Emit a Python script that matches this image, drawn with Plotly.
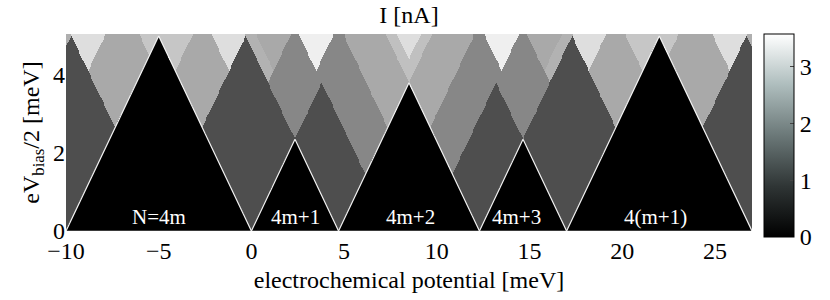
import numpy as np
import plotly.graph_objects as go

# ---------------- data ----------------
# zero-bias degeneracy points (meV) where neighbouring diamonds touch
degeneracy = [-22.3, -14.7, -10.0, 0.0, 4.7, 12.3, 17.0, 27.0, 31.7, 39.3]
# charge-state labels inside the diamonds
label_text = ["N=4m", "4m+1", "4m+2", "4m+3", "4(m+1)"]
label_x = [-5.0, 2.4, 8.6, 14.3, 21.8]
label_v = [0.35, 0.35, 0.35, 0.35, 0.35]

x_ticks = [-10, -5, 0, 5, 10, 15, 20, 25]
y_ticks = [0, 2, 4]
cbar_ticks = [0, 1, 2, 3]
current_max = 3.58

# the map is mirror-symmetric about this potential
mirror_center = 8.5

# current plateaus (nA) outside the diamonds, given as ranges of the
# rotated coordinates u = mu + V and w = mu - V (painted in order)
base_current = 1.1
reg_u_lo = [-4.7, -4.7, -10.0, -1.0, 0.0, 2.9, 0.0, 4.7, 4.7, 5.3, 7.6, 7.6, 10.0, 12.3, 12.9]
reg_u_hi = [99, 99, -4.7, 99, 99, 99, 99, 99, 99, 99, 99, 99, 99, 99, 99]
reg_w_lo = [-99, -99, -99, -99, -99, -99, -99, -99, -99, -99, 0.0, -99, 0.0, -99, -99]
reg_w_hi = [-10.0, -12.9, -14.7, -10.0, -5.3, -5.3, -8.2, 0.0, -2.9, -2.9, 4.7, -0.6, 4.7, 4.7, 4.1]
reg_current = [2.37, 3.12, 2.45, 2.78, 2.37, 3.12, 2.78, 1.9, 2.5, 2.37, 1.9, 3.35, 2.37, 2.7, 3.12]

# ---------------- build the map ----------------
mu = np.arange(-10.0, 27.0001, 0.05)
vb = np.arange(0.0, 5.0501, 0.0125)
M, VV = np.meshgrid(mu, vb)
Mh = np.where(M > mirror_center, 2 * mirror_center - M, M)
U = Mh + VV
W = Mh - VV
Z = np.full(M.shape, base_current)
for ulo, uhi, wlo, whi, val in zip(reg_u_lo, reg_u_hi, reg_w_lo, reg_w_hi, reg_current):
    Z[(U > ulo) & (U < uhi) & (W > wlo) & (W < whi)] = val
Uf = M + VV
Wf = M - VV
for a, b in zip(degeneracy[:-1], degeneracy[1:]):
    Z[(Wf > a) & (Uf < b)] = 0.0
Z = np.round(Z, 3)

fig = go.Figure()
fig.add_trace(go.Heatmap(
    x=mu, y=vb, z=Z, zmin=0, zmax=current_max,
    colorscale=[[0, "#000000"], [1, "#ffffff"]],
    showscale=False, hoverinfo="skip", zsmooth=False))

# diamond outlines
for a, b in zip(degeneracy[:-1], degeneracy[1:]):
    fig.add_trace(go.Scatter(
        x=[a, (a + b) / 2, b], y=[0, (b - a) / 2, 0], mode="lines",
        line=dict(color="#f2f2f2", width=1.2), hoverinfo="skip", showlegend=False))

# colorbar (bone-like map)
bone = [[0.0, "#000000"], [0.25, "#2f3535"], [0.5, "#6b7878"],
        [0.75, "#aebdbd"], [1.0, "#ffffff"]]
fig.add_trace(go.Scatter(
    x=[-100], y=[-100], mode="markers", showlegend=False, hoverinfo="skip",
    marker=dict(color=[0], cmin=0, cmax=current_max, colorscale=bone, showscale=True,
                colorbar=dict(x=1.0175, xanchor="left", xpad=0, ypad=0, thickness=30,
                              lenmode="pixels", len=203, y=0.4848, yanchor="middle",
                              outlinecolor="black", outlinewidth=1,
                              tickvals=cbar_ticks, ticks="inside", ticklen=4,
                              tickfont=dict(family="Liberation Serif", size=24, color="black")))))

for t, xx, yy in zip(label_text, label_x, label_v):
    fig.add_annotation(x=xx, y=yy, text=t, showarrow=False,
                       font=dict(family="Liberation Serif", size=21, color="white"))

fig.update_layout(
    width=830, height=300, margin=dict(l=66, r=78, t=34, b=69, autoexpand=False),
    plot_bgcolor="white", paper_bgcolor="white", showlegend=False,
    title=dict(text="I [nA]", x=0.5, xref="paper", xanchor="center", y=0.95, yanchor="middle",
               font=dict(family="Liberation Serif", size=24, color="black")),
    font=dict(family="Liberation Serif", color="black"),
)
fig.update_xaxes(range=[-10, 27], tickvals=x_ticks,
                 ticktext=[("\u2212" + str(-v)) if v < 0 else str(v) for v in x_ticks],
                 showgrid=False, zeroline=False, ticks="", tickfont=dict(size=24),
                 automargin=False, ticklabelstandoff=3,
                 title=dict(text="electrochemical potential [meV]", font=dict(size=24), standoff=8))
fig.update_yaxes(range=[0, 5.05], tickvals=y_ticks, showgrid=False, zeroline=False, ticks="",
                 tickfont=dict(size=24), automargin=False,
                 title=dict(text="eV<sub>bias</sub>/2 [meV]", font=dict(size=24), standoff=6))

fig.write_html("out.html", config={"displayModeBar": False},
               post_script="document.body.style.margin='0px';")
